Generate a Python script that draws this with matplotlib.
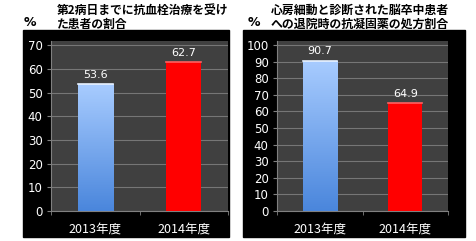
import numpy as np
import matplotlib.pyplot as plt
from matplotlib.patches import Rectangle
from matplotlib.colors import LinearSegmentedColormap

plt.rcParams['font.family'] = ['DejaVu Sans', 'Noto Sans CJK JP']

# data
years = ['2013年度', '2014年度']
left_values = [53.6, 62.7]
right_values = [90.7, 64.9]
left_title = '第2病日までに抗血栓治療を受け\nた患者の割合'
right_title = '心房細動と診断された脳卒中患者\nへの退院時の抗凝固薬の処方割合'
left_ticks = list(range(0, 71, 10))
right_ticks = list(range(0, 101, 10))

W, H = 476, 241
fig = plt.figure(figsize=(W / 100, H / 100), dpi=100)
fig.patch.set_facecolor('white')

def fx(px):
    return px / W

def fy(py):
    return 1 - py / H

# black frames behind each chart
fig.patches.append(Rectangle((fx(23), fy(237)), fx(206), (237 - 30) / H,
                             transform=fig.transFigure, color='black', zorder=-1))
fig.patches.append(Rectangle((fx(243), fy(237)), fx(222), (237 - 30) / H,
                             transform=fig.transFigure, color='black', zorder=-1))

blue_cmap = LinearSegmentedColormap.from_list('bl', ['#4a86dc', '#a8ccff'])


def draw_panel(rect, values, ticks, ymax):
    ax = fig.add_axes(rect)
    ax.set_facecolor('#404040')
    x = np.arange(len(values))
    bars = ax.bar(x, values, width=0.4, color=['#4a86dc', '#ff0000'], zorder=3,
                  edgecolor='none')
    # gradient on the blue bar
    b = bars[0]
    x0, w, h = b.get_x(), b.get_width(), b.get_height()
    grad = np.linspace(0, 1, 256).reshape(-1, 1)
    im = ax.imshow(grad, extent=(x0, x0 + w, 0, h), origin='lower', cmap=blue_cmap,
                   aspect='auto', zorder=4)
    im.set_clip_path(b)
    # highlight lines on bar tops
    ax.plot([x0, x0 + w], [h, h], color='#e8f2ff', lw=1.2, zorder=5)
    r = bars[1]
    ax.plot([r.get_x(), r.get_x() + r.get_width()], [r.get_height(), r.get_height()],
            color='#ff6060', lw=1.2, zorder=5)
    for xi, v in zip(x, values):
        ax.text(xi, v + ymax * 0.025, f'{v}', ha='center', va='bottom',
                color='white', fontsize=8, zorder=6)
    ax.set_xlim(-0.5, 1.5)
    ax.set_ylim(0, ymax * 1.025)
    ax.set_yticks(ticks)
    ax.yaxis.grid(True, color='#767676', lw=0.8, zorder=1)
    ax.set_axisbelow(True)
    ax.set_xticks(x)
    ax.set_xticklabels(years, fontfamily=['Noto Sans CJK JP'], fontsize=9)
    ax.set_xticks([-0.5, 0.5, 1.5], minor=True)
    ax.tick_params(axis='x', which='major', length=0, pad=8, colors='white')
    ax.tick_params(axis='x', which='minor', length=3, color='#808080')
    ax.tick_params(axis='y', length=3, color='#808080', labelcolor='white',
                   labelsize=8.5, pad=3)
    for s in ['top', 'right']:
        ax.spines[s].set_visible(False)
    for s in ['left', 'bottom']:
        ax.spines[s].set_color('#808080')
    return ax


draw_panel([fx(51), fy(211), fx(177), 170 / H], left_values, left_ticks, 70)
draw_panel([fx(277), fy(211), fx(171), 170 / H], right_values, right_ticks, 100)

# titles and percent signs
fig.text(fx(30), fy(23), '%', fontsize=9, fontweight='bold', va='center', ha='center')
fig.text(fx(57), fy(17), left_title, fontsize=8.5, fontweight='bold', va='center',
         ha='left', family=['Noto Sans CJK JP'], linespacing=1.1)
fig.text(fx(254), fy(23), '%', fontsize=9, fontweight='bold', va='center', ha='center')
fig.text(fx(360), fy(17), right_title, fontsize=8.6, fontweight='bold', va='center',
         ha='center', family=['Noto Sans CJK JP'], linespacing=1.1)

fig.savefig('out.png', dpi=100, facecolor='white')
